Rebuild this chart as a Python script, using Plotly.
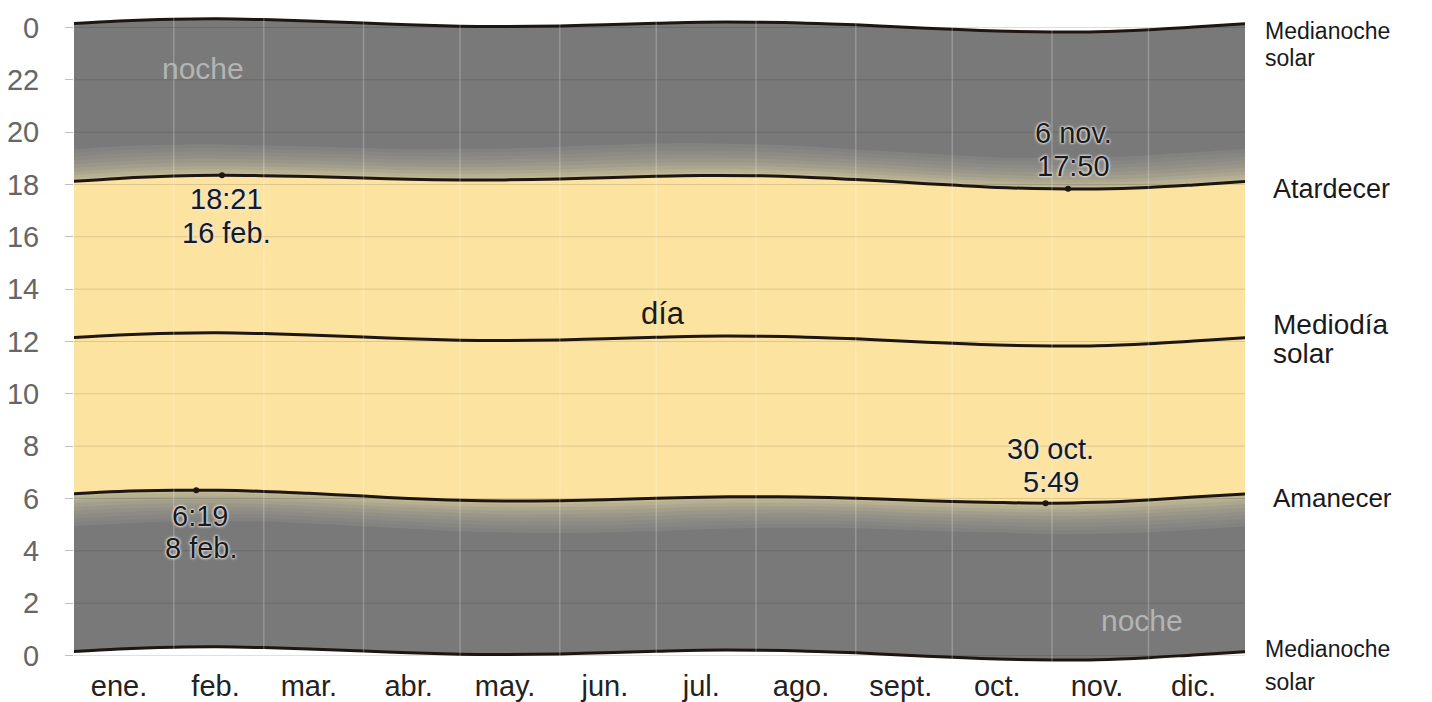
import plotly.graph_objects as go

# ---------------- data ----------------
dates = ["2023-01-01", "2023-01-15", "2023-02-01", "2023-02-15", "2023-03-01",
         "2023-03-15", "2023-04-01", "2023-04-15", "2023-05-01", "2023-05-15",
         "2023-06-01", "2023-06-15", "2023-07-01", "2023-07-15", "2023-08-01",
         "2023-08-15", "2023-09-01", "2023-09-15", "2023-10-01", "2023-10-15",
         "2023-11-01", "2023-11-15", "2023-12-01", "2023-12-15", "2023-12-31"]

sunrise = [6.18, 6.27, 6.31, 6.31, 6.27, 6.195, 6.09, 6.00, 5.93, 5.905,
           5.915, 5.95, 6.005, 6.05, 6.07, 6.06, 6.01, 5.95, 5.885, 5.845,
           5.82, 5.855, 5.945, 6.055, 6.175]

sunset = [18.12, 18.23, 18.32, 18.35, 18.335, 18.30, 18.245, 18.20, 18.17, 18.175,
          18.21, 18.26, 18.315, 18.345, 18.335, 18.29, 18.19, 18.09, 17.975, 17.885,
          17.835, 17.83, 17.885, 17.98, 18.11]

solar_noon = [12.15, 12.25, 12.315, 12.33, 12.30, 12.25, 12.17, 12.10, 12.05, 12.04,
              12.06, 12.105, 12.16, 12.20, 12.20, 12.175, 12.10, 12.02, 11.93, 11.865,
              11.83, 11.84, 11.915, 12.02, 12.14]

solar_midnight = [0.15, 0.25, 0.315, 0.33, 0.30, 0.25, 0.17, 0.10, 0.05, 0.04,
                  0.06, 0.105, 0.16, 0.20, 0.20, 0.175, 0.10, 0.02, -0.07, -0.135,
                  -0.17, -0.16, -0.085, 0.02, 0.14]

# twilight durations (minutes)
civil_min = [22, 22, 22, 21, 21, 21, 21, 21, 21, 22, 22, 23, 23, 22, 22, 21, 21, 21,
             21, 21, 21, 22, 22, 23, 23]
nautical_min = [26, 26, 25, 25, 24, 24, 24, 24, 25, 25, 26, 26, 26, 26, 25, 25, 24, 24,
                24, 24, 25, 25, 26, 26, 26]
astro_min = [26, 26, 25, 25, 24, 24, 24, 24, 25, 25, 26, 26, 26, 26, 25, 25, 24, 24,
             24, 24, 25, 25, 26, 26, 26]

month_labels = ["ene.", "feb.", "mar.", "abr.", "may.", "jun.", "jul.", "ago.",
                "sept.", "oct.", "nov.", "dic."]
month_label_dates = ["2023-01-15", "2023-02-14", "2023-03-15", "2023-04-15",
                     "2023-05-15", "2023-06-15", "2023-07-15", "2023-08-15",
                     "2023-09-15", "2023-10-15", "2023-11-15", "2023-12-15"]
month_starts = ["2023-02-01", "2023-03-01", "2023-04-01", "2023-05-01", "2023-06-01",
                "2023-07-01", "2023-08-01", "2023-09-01", "2023-10-01", "2023-11-01",
                "2023-12-01"]

y_tick_vals = [0, 2, 4, 6, 8, 10, 12, 14, 16, 18, 20, 22, 24]
y_tick_text = ["0", "2", "4", "6", "8", "10", "12", "14", "16", "18", "20", "22", "0"]

extreme_dates = ["2023-02-08", "2023-02-16", "2023-10-30", "2023-11-06"]
extreme_hours = [6 + 19 / 60, 18 + 21 / 60, 5 + 49 / 60, 17 + 50 / 60]
extreme_time_text = ["6:19", "18:21", "5:49", "17:50"]
extreme_day_text = ["8 feb.", "16 feb.", "30 oct.", "6 nov."]

# ---------------- derived boundaries ----------------
civil_dawn = [s - c / 60 for s, c in zip(sunrise, civil_min)]
naut_dawn = [s - n / 60 for s, n in zip(civil_dawn, nautical_min)]
astro_dawn = [s - a / 60 for s, a in zip(naut_dawn, astro_min)]
civil_dusk = [s + c / 60 for s, c in zip(sunset, civil_min)]
naut_dusk = [s + n / 60 for s, n in zip(civil_dusk, nautical_min)]
astro_dusk = [s + a / 60 for s, a in zip(naut_dusk, astro_min)]
midnight_top = [m + 24 for m in solar_midnight]

NIGHT = "#797979"
DAY = "#fce3a0"
LINE = "#1e1612"
FONT = "Liberation Sans, Arial, Helvetica, sans-serif"

# twilight gradient anchor colours (outer -> inner)
anchor_cols = [(128, 128, 127), (143, 141, 134), (166, 161, 140), (197, 189, 150)]
SUB = 3


def hexcol(c):
    return "#%02x%02x%02x" % tuple(int(round(v)) for v in c)


def mix(a, b, t):
    return tuple(a[i] + (b[i] - a[i]) * t for i in range(3))


# build outer->inner levels of the twilight gradient
dawn_edges = [astro_dawn, naut_dawn, civil_dawn, sunrise]
dusk_edges = [astro_dusk, naut_dusk, civil_dusk, sunset]
levels = []  # (dawn, dusk, color)
total = 3 * SUB
for seg in range(3):
    for j in range(SUB):
        f = j / SUB
        dawn = [a + (b - a) * f for a, b in zip(dawn_edges[seg], dawn_edges[seg + 1])]
        dusk = [a + (b - a) * f for a, b in zip(dusk_edges[seg], dusk_edges[seg + 1])]
        t = (seg * SUB + j + 0.5) / total * 3
        k = min(int(t), 2)
        col = mix(anchor_cols[k], anchor_cols[k + 1], t - k)
        levels.append((dawn, dusk, hexcol(col)))

fig = go.Figure()


def band(lower, upper, color):
    fig.add_trace(go.Scatter(x=dates, y=lower, mode="lines",
                             line=dict(width=0, shape="spline", color=color),
                             hoverinfo="skip", showlegend=False))
    fig.add_trace(go.Scatter(x=dates, y=upper, mode="lines", fill="tonexty",
                             fillcolor=color,
                             line=dict(width=0, shape="spline", color=color),
                             hoverinfo="skip", showlegend=False))


band(solar_midnight, midnight_top, NIGHT)
for dawn, dusk, col in levels:
    band(dawn, dusk, col)
band(sunrise, sunset, DAY)

for series in (solar_midnight, midnight_top, sunrise, sunset, solar_noon):
    fig.add_trace(go.Scatter(x=dates, y=series, mode="lines",
                             line=dict(width=3, shape="spline", color=LINE),
                             hoverinfo="skip", showlegend=False))

fig.add_trace(go.Scatter(x=extreme_dates, y=extreme_hours, mode="markers",
                         marker=dict(size=6, color=LINE), hoverinfo="skip",
                         showlegend=False))

# gridlines drawn above the fills
shapes = []
for h in y_tick_vals:
    shapes.append(dict(type="line", xref="paper", x0=0, x1=1, yref="y", y0=h, y1=h,
                       line=dict(color="rgba(0,0,0,0.13)", width=1), layer="above"))
for d in month_starts:
    shapes.append(dict(type="line", xref="x", x0=d, x1=d, yref="paper", y0=0, y1=1,
                       line=dict(color="rgba(255,255,255,0.22)", width=1.5), layer="above"))

annotations = []
HALO = "0 0 2px #e8e8e8, 0 0 3px #e8e8e8, 0 0 3px #e8e8e8"


def label(x, y, text, size, color="#1a1a1a", xshift=0, yshift=0, xref="x",
          xanchor="center", shadow="none"):
    annotations.append(dict(x=x, y=y, xref=xref, yref="y", text=text, showarrow=False,
                            xanchor=xanchor, yanchor="middle", xshift=xshift,
                            yshift=yshift,
                            font=dict(family=FONT, size=size, color=color,
                                      shadow=shadow)))


# extreme annotations
label(extreme_dates[0], extreme_hours[0], extreme_time_text[0], 29, xshift=4, yshift=-26, shadow=HALO)
label(extreme_dates[0], extreme_hours[0], extreme_day_text[0], 29, xshift=5, yshift=-58, shadow=HALO)
label(extreme_dates[1], extreme_hours[1], extreme_time_text[1], 29, xshift=5, yshift=-24, shadow=HALO)
label(extreme_dates[1], extreme_hours[1], extreme_day_text[1], 29, xshift=5, yshift=-58, shadow=HALO)
label(extreme_dates[2], extreme_hours[2], extreme_day_text[2], 29, xshift=5, yshift=54, shadow=HALO)
label(extreme_dates[2], extreme_hours[2], extreme_time_text[2], 29, xshift=5, yshift=21, shadow=HALO)
label(extreme_dates[3], extreme_hours[3], extreme_day_text[3], 29, xshift=5, yshift=56, shadow=HALO)
label(extreme_dates[3], extreme_hours[3], extreme_time_text[3], 29, xshift=5, yshift=23, shadow=HALO)

# region labels
label("2023-02-10", 22.45, "noche", 30, color="#b4b4b4")
label("2023-11-29", 1.32, "noche", 30, color="#b4b4b4")
label("2023-07-03", 13.05, "día", 31, color="#1a1a1a")

# right-side labels
last = len(dates) - 1
label(1, midnight_top[last], "Medianoche", 23, xref="paper", xanchor="left", xshift=18, yshift=-7)
label(1, midnight_top[last], "solar", 23, xref="paper", xanchor="left", xshift=18, yshift=-34)
label(1, sunset[last], "Atardecer", 27, xref="paper", xanchor="left", xshift=26, yshift=-7)
label(1, solar_noon[last], "Mediodía", 28, xref="paper", xanchor="left", xshift=26, yshift=13)
label(1, solar_noon[last], "solar", 28, xref="paper", xanchor="left", xshift=26, yshift=-16)
label(1, sunrise[last], "Amanecer", 26, xref="paper", xanchor="left", xshift=26, yshift=-4)
label(1, solar_midnight[last], "Medianoche", 23, xref="paper", xanchor="left", xshift=18, yshift=3)
label(1, solar_midnight[last], "solar", 23, xref="paper", xanchor="left", xshift=18, yshift=-30)

fig.update_layout(
    width=1432, height=702,
    margin=dict(l=74, r=187, t=17, b=40),
    paper_bgcolor="white", plot_bgcolor="white",
    showlegend=False,
    shapes=shapes, annotations=annotations,
    font=dict(family=FONT),
)
fig.update_xaxes(
    range=[dates[0], dates[-1]], tickvals=month_label_dates, ticktext=month_labels,
    showgrid=False, zeroline=False, showline=False, ticks="", automargin=False,
    tickfont=dict(size=29, color="#222222", family=FONT), ticklabelstandoff=4,
)
fig.update_yaxes(
    range=[-0.25, 24.4], tickvals=y_tick_vals, ticktext=y_tick_text,
    showgrid=False, zeroline=False, showline=False, automargin=False,
    ticks="outside", ticklen=8, tickcolor="rgba(0,0,0,0.25)", tickwidth=1,
    tickfont=dict(size=29, color="#666666", family=FONT), ticklabelstandoff=20,
)

fig.write_html("out.html", config={"displayModeBar": False},
               post_script="document.body.style.margin='0';document.body.style.overflow='hidden';")
